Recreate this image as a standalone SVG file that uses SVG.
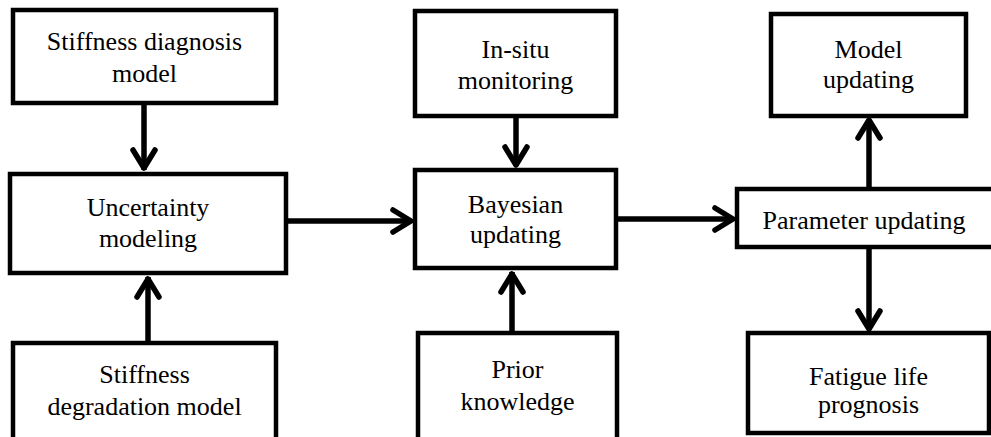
<svg xmlns="http://www.w3.org/2000/svg" width="991" height="437" viewBox="0 0 991 437">
  <defs>
    <style>
      .box { fill: #ffffff; stroke: #000000; stroke-width: 4.5; }
      .label { font-family: 'Liberation Serif', 'Times New Roman', Times, 'DejaVu Serif', serif; font-size: 26px; fill: #000000; text-anchor: middle; }
      .edge { fill: none; stroke: #000000; stroke-width: 5.5; }
      .head { fill: none; stroke: #000000; stroke-width: 5.5; stroke-linecap: round; stroke-linejoin: round; }
    </style>
  </defs>
  <rect width="991" height="437" fill="#ffffff"/>

  <g id="connectors">
    <!-- stiffness diagnosis -> uncertainty modeling -->
    <line class="edge" x1="144" y1="103" x2="144" y2="170"/>
    <polyline class="head" points="133,150 144,168 155,150"/>
    <!-- stiffness degradation -> uncertainty modeling -->
    <line class="edge" x1="148" y1="343" x2="148" y2="277"/>
    <polyline class="head" points="137,297 148,279 159,297"/>
    <!-- uncertainty modeling -> bayesian updating -->
    <line class="edge" x1="286" y1="221" x2="411" y2="221"/>
    <polyline class="head" points="393,210 411,221 393,232"/>
    <!-- in-situ monitoring -> bayesian updating -->
    <line class="edge" x1="516" y1="116" x2="516" y2="166"/>
    <polyline class="head" points="505,147 516,165 527,147"/>
    <!-- prior knowledge -> bayesian updating -->
    <line class="edge" x1="512" y1="333" x2="512" y2="272"/>
    <polyline class="head" points="501,292 512,274 523,292"/>
    <!-- bayesian updating -> parameter updating -->
    <line class="edge" x1="617" y1="219" x2="733" y2="219"/>
    <polyline class="head" points="715,208 733,219 715,230"/>
    <!-- parameter updating -> model updating -->
    <line class="edge" x1="869" y1="189" x2="869" y2="120"/>
    <polyline class="head" points="858,138 869,120 880,138"/>
    <!-- parameter updating -> fatigue life prognosis -->
    <line class="edge" x1="869" y1="247" x2="869" y2="329"/>
    <polyline class="head" points="858,311 869,329 880,311"/>
  </g>

  <g id="stiffness-diagnosis">
    <rect class="box" x="13" y="10" width="263" height="93"/>
    <text class="label" x="144.5" y="50">Stiffness diagnosis</text>
    <text class="label" x="144.5" y="82">model</text>
  </g>

  <g id="uncertainty-modeling">
    <rect class="box" x="10" y="174" width="276" height="99"/>
    <text class="label" x="148" y="216">Uncertainty</text>
    <text class="label" x="148" y="247">modeling</text>
  </g>

  <g id="stiffness-degradation">
    <rect class="box" x="13" y="343" width="263" height="100"/>
    <text class="label" x="144.5" y="383">Stiffness</text>
    <text class="label" x="144.5" y="415">degradation model</text>
  </g>

  <g id="in-situ-monitoring">
    <rect class="box" x="415" y="11" width="201" height="105"/>
    <text class="label" x="515.5" y="58">In-situ</text>
    <text class="label" x="515.5" y="89">monitoring</text>
  </g>

  <g id="bayesian-updating">
    <rect class="box" x="415" y="170" width="201" height="98"/>
    <text class="label" x="515.5" y="213">Bayesian</text>
    <text class="label" x="515.5" y="243">updating</text>
  </g>

  <g id="prior-knowledge">
    <rect class="box" x="418" y="333" width="199" height="110"/>
    <text class="label" x="517.5" y="378">Prior</text>
    <text class="label" x="517.5" y="410">knowledge</text>
  </g>

  <g id="model-updating">
    <rect class="box" x="771" y="14" width="195" height="102"/>
    <text class="label" x="868.5" y="58">Model</text>
    <text class="label" x="868.5" y="88">updating</text>
  </g>

  <g id="parameter-updating">
    <rect class="box" x="737" y="189" width="258" height="58"/>
    <text class="label" x="864" y="229">Parameter updating</text>
  </g>

  <g id="fatigue-life-prognosis">
    <rect class="box" x="748" y="333" width="241" height="100"/>
    <text class="label" x="868.5" y="385">Fatigue life</text>
    <text class="label" x="868.5" y="413">prognosis</text>
  </g>
</svg>
